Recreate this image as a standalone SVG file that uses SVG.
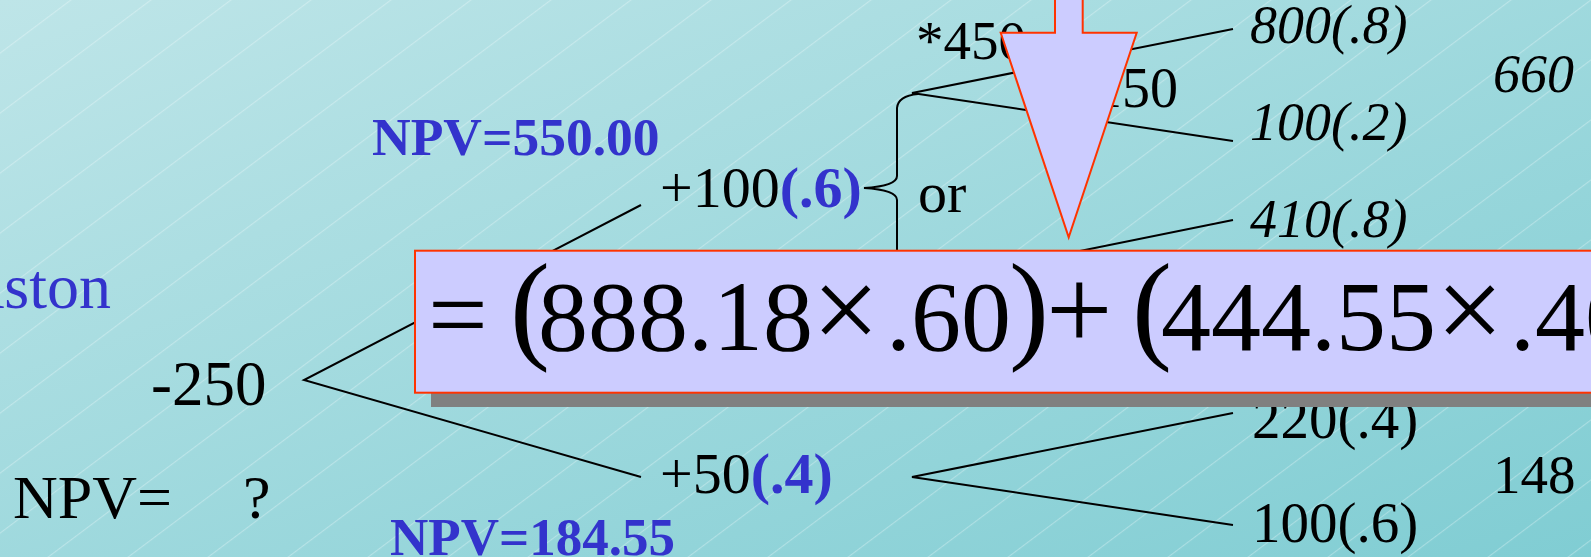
<svg xmlns="http://www.w3.org/2000/svg" width="1591" height="557" viewBox="0 0 1591 557">
<style>
.t{font-family:"Liberation Serif","Times New Roman",serif;fill:#000}
.i{font-style:italic}
.b{font-weight:bold;fill:#3333cc}
.blue{fill:#3333cc}
.ln{stroke:#000;stroke-width:2;fill:none}
.red{fill:#ccccff;stroke:#ff3300;stroke-width:2}
</style>
<defs>
<linearGradient id="bg" x1="0" y1="0" x2="1" y2="1">
<stop offset="0" stop-color="#bee5e8"/>
<stop offset="1" stop-color="#80cdd3"/>
</linearGradient>
<pattern id="hatch" patternUnits="userSpaceOnUse" width="48" height="20" patternTransform="rotate(53.13)">
<line x1="42.6" y1="-5" x2="42.6" y2="25" stroke="#ffffff" stroke-opacity="0.32" stroke-width="1"/>
</pattern>
</defs>
<rect width="1591" height="557" fill="url(#bg)"/>
<rect width="1591" height="557" fill="url(#hatch)"/>

<g id="connectors">
<polyline class="ln" points="641,205 304,380 641,477"/>
<polyline class="ln" points="1233,29 912,93 1233,141"/>
<polyline class="ln" points="1233,220 912,285 1233,330"/>
<polyline class="ln" points="1233,413 912,477 1233,525"/>
<path class="ln" d="M918,94 Q898,96 897,108 L897,176 Q897,186 864,188 Q897,190 897,200 L897,272 Q898,283 918,285"/>
</g>

<g id="n-aston"><text class="t blue" x="111" y="308" font-size="64" text-anchor="end">Aston</text></g>
<g id="n-root"><text class="t" x="151" y="405" font-size="63">-250</text></g>
<g id="n-npv"><text class="t" x="13" y="518" font-size="62">NPV=<tspan x="243">?</tspan></text></g>
<g id="n-npv550"><text class="t b" x="372" y="155" font-size="53.5">NPV=550.00</text></g>
<g id="n-npv184"><text class="t b" x="390" y="555" font-size="53">NPV=184.55</text></g>
<g id="n-up"><text class="t" x="660" y="207" font-size="58">+100<tspan class="b">(.6)</tspan></text></g>
<g id="n-down"><text class="t" x="660" y="493" font-size="58">+50<tspan class="b">(.4)</tspan></text></g>
<g id="n-or"><text class="t" x="918" y="212" font-size="58">or</text></g>
<g id="n-450"><text class="t" x="916" y="59" font-size="55">*450</text></g>
<g id="n-150"><text class="t" x="1094" y="107" font-size="56">150</text></g>
<g id="n-800"><text class="t i" x="1250" y="43" font-size="54">800(.8)</text></g>
<g id="n-100a"><text class="t i" x="1250" y="140" font-size="54">100(.2)</text></g>
<g id="n-660"><text class="t i" x="1493" y="92" font-size="54">660</text></g>
<g id="n-410"><text class="t i" x="1250" y="237" font-size="54">410(.8)</text></g>
<g id="n-220"><text class="t" x="1252" y="438" font-size="57">220(.4)</text></g>
<g id="n-100b"><text class="t" x="1252" y="542" font-size="57">100(.6)</text></g>
<g id="n-148"><text class="t" x="1493" y="493" font-size="55">148</text></g>

<g id="formula">
<rect x="431" y="264" width="1200" height="143" fill="#808080"/>
<rect class="red" x="415" y="250.7" width="1200" height="142"/>
<text class="t" y="350" font-size="100">
<tspan x="428" font-size="106">=</tspan><tspan x="510" y="347" font-size="120">(</tspan><tspan x="538" y="350">888.18</tspan><tspan x="812" font-size="120">×</tspan><tspan x="886">.60</tspan><tspan x="1009" y="347" font-size="120">)</tspan><tspan x="1046" y="350" font-size="118">+</tspan><tspan x="1132" y="347" font-size="120">(</tspan><tspan x="1161" y="350">444.55</tspan><tspan x="1436" font-size="120">×</tspan><tspan x="1510">.40</tspan><tspan y="347" font-size="120">)</tspan>
</text>
</g>

<g id="arrow">
<polygon class="red" points="1055,-5 1055,32.7 1000.7,32.7 1068.7,237.3 1136.7,32.7 1082.7,32.7 1082.7,-5"/>
</g>
</svg>
